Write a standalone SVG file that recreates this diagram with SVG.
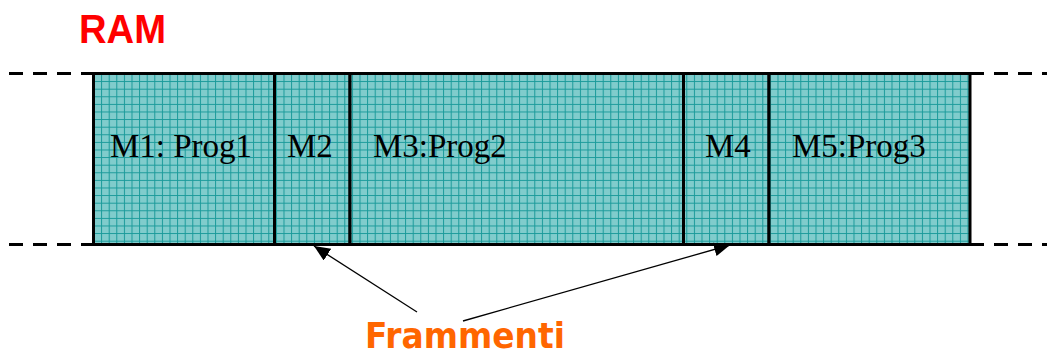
<svg xmlns="http://www.w3.org/2000/svg" width="1047" height="354" viewBox="0 0 1047 354">
  <style>
    .seg { fill: url(#grid); stroke: #000; stroke-width: 3; }
    .lbl { font-family: "Liberation Serif", "Times New Roman", serif; font-size: 33px; fill: #000; }
    .dash { stroke: #000; stroke-width: 3; stroke-dasharray: 14 10; fill: none; }
    .conn { stroke: #000; stroke-width: 1.3; fill: none; marker-end: url(#ah); }
  </style>
  <defs>
    <pattern id="grid" patternUnits="userSpaceOnUse" x="93.5" y="73.5" width="7.6" height="7.6">
      <rect width="7.6" height="7.6" fill="#80CCCC"/>
      <path d="M0 0.5 H7.6 M0.5 0 V7.6" stroke="#1A9A9A" stroke-width="1" fill="none"/>
    </pattern>
    <marker id="ah" markerUnits="userSpaceOnUse" markerWidth="18" markerHeight="16" refX="16" refY="7" orient="auto">
      <path d="M0 0 L16 7 L0 14 Z" fill="#000"/>
    </marker>
  </defs>
  <rect width="1047" height="354" fill="#fff"/>
  <text x="79" y="43" font-family="Liberation Sans, Arial, sans-serif" font-weight="bold" font-size="41" fill="#FF0000" textLength="87" lengthAdjust="spacingAndGlyphs">RAM</text>

  <g id="dashes">
    <path class="dash" d="M9 73.5 H93.5 M9 244.5 H93.5"/>
    <path class="dash" d="M970 73.5 H1047 M970 244.5 H1047"/>
  </g>

  <g id="m1"><rect class="seg" x="93.5" y="73.5" width="181" height="171"/><text class="lbl" x="110" y="157">M1: Prog1</text></g>
  <g id="m2"><rect class="seg" x="274.5" y="73.5" width="75.5" height="171"/><text class="lbl" x="287" y="157">M2</text></g>
  <g id="m3"><rect class="seg" x="350" y="73.5" width="333.5" height="171"/><text class="lbl" x="373" y="157">M3:Prog2</text></g>
  <g id="m4"><rect class="seg" x="683.5" y="73.5" width="85.5" height="171"/><text class="lbl" x="705" y="157">M4</text></g>
  <g id="m5"><rect class="seg" x="769" y="73.5" width="201" height="171"/><text class="lbl" x="792" y="157">M5:Prog3</text></g>

  <g id="connectors">
    <path class="conn" d="M417 312 L314 246"/>
    <path class="conn" d="M463 321 L730 245"/>
  </g>

  <g id="frammenti">
    <text x="365" y="348" font-family="DejaVu Sans, sans-serif" font-weight="bold" font-size="36" fill="#FF6600" textLength="200" lengthAdjust="spacingAndGlyphs">Frammenti</text>
  </g>
</svg>
